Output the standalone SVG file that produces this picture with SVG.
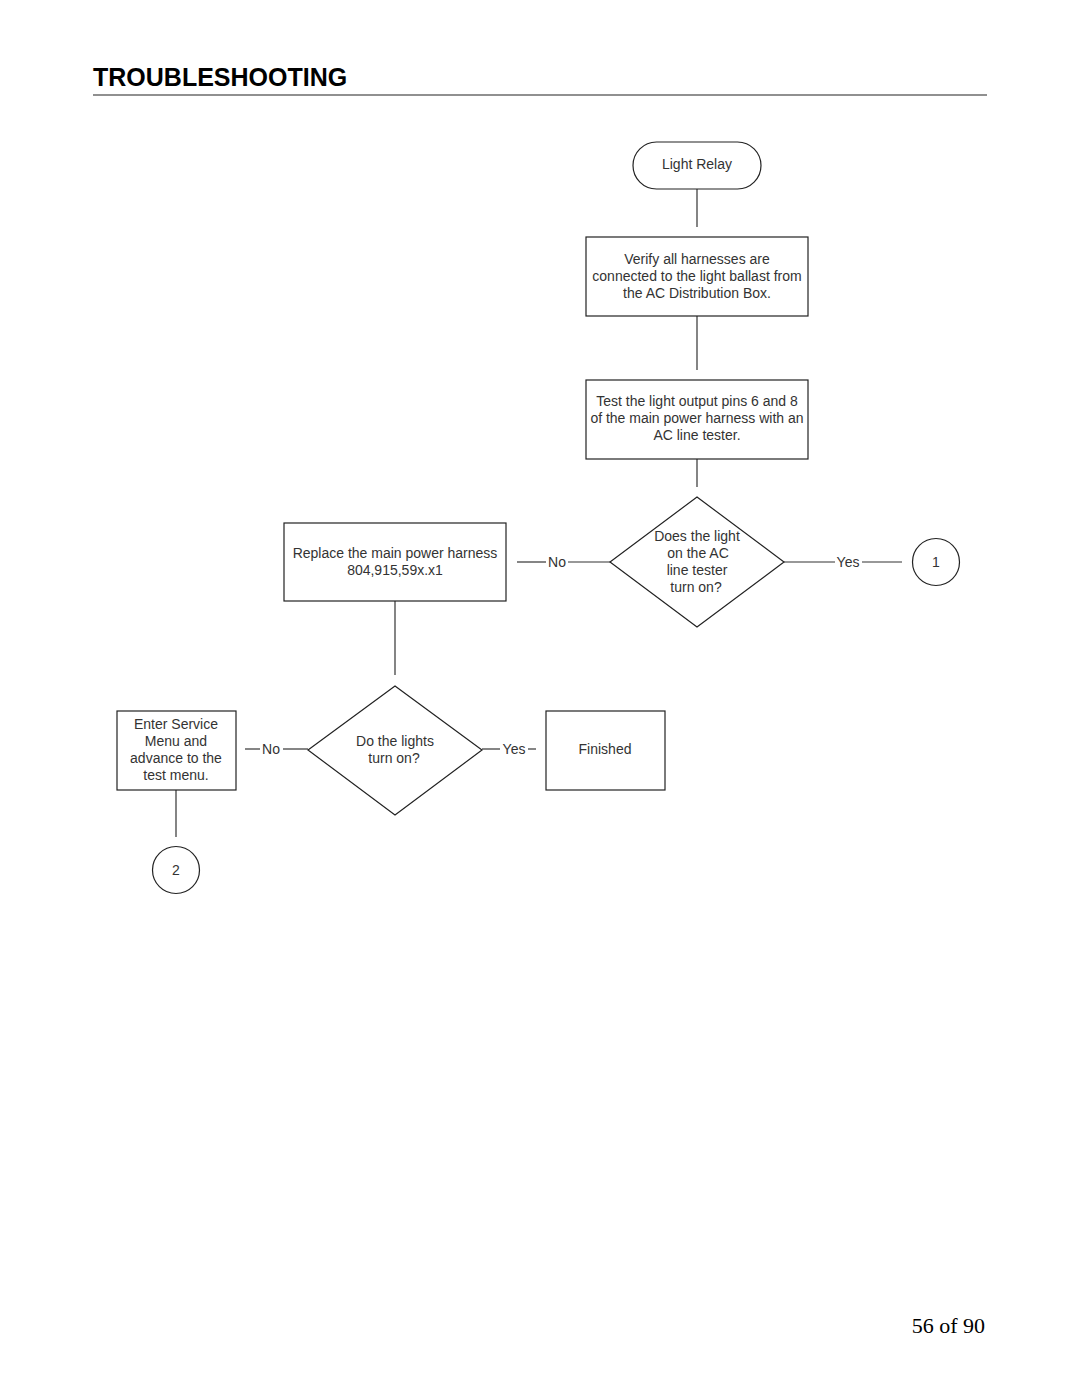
<svg xmlns="http://www.w3.org/2000/svg" width="1080" height="1397" viewBox="0 0 1080 1397">
<style>
.s{fill:#fff;stroke:#222;stroke-width:1.2}
.c{stroke:#333;stroke-width:1.2;fill:none}
.t{font-family:"Liberation Sans",Arial,sans-serif;font-size:14px;fill:#333;text-anchor:middle;dominant-baseline:central}
</style>
<rect width="1080" height="1397" fill="#fff"/>
<text x="93" y="86" font-family="Liberation Sans,Arial,sans-serif" font-weight="bold" font-size="25" fill="#000">TROUBLESHOOTING</text>
<line x1="93" y1="95" x2="987" y2="95" stroke="#222" stroke-width="1.2"/>
<g id="connectors">
<line class="c" x1="697" y1="189" x2="697" y2="227"/>
<line class="c" x1="697" y1="316" x2="697" y2="370"/>
<line class="c" x1="697" y1="459" x2="697" y2="487"/>
<line class="c" x1="517" y1="562" x2="546" y2="562"/>
<line class="c" x1="568" y1="562" x2="610" y2="562"/>
<text class="t" x="557" y="562">No</text>
<line class="c" x1="784" y1="562" x2="835" y2="562"/>
<line class="c" x1="862" y1="562" x2="902" y2="562"/>
<text class="t" x="848" y="562">Yes</text>
<line class="c" x1="395" y1="601" x2="395" y2="675"/>
<line class="c" x1="245" y1="749" x2="260" y2="749"/>
<line class="c" x1="283" y1="749" x2="308" y2="749"/>
<text class="t" x="271" y="749">No</text>
<line class="c" x1="482" y1="749" x2="500" y2="749"/>
<line class="c" x1="528" y1="749" x2="536" y2="749"/>
<text class="t" x="514" y="749">Yes</text>
<line class="c" x1="176" y1="790" x2="176" y2="837"/>
</g>
<g id="start">
<rect class="s" x="633" y="142" width="128" height="47" rx="23.5"/>
<text class="t" x="697" y="164">Light Relay</text>
</g>
<g id="verify">
<rect class="s" x="586" y="237" width="222" height="79"/>
<text class="t" x="697" y="259">Verify all harnesses are</text>
<text class="t" x="697" y="276">connected to the light ballast from</text>
<text class="t" x="697" y="293">the AC Distribution Box.</text>
</g>
<g id="test">
<rect class="s" x="586" y="380" width="222" height="79"/>
<text class="t" x="697" y="401">Test the light output pins 6 and 8</text>
<text class="t" x="697" y="418">of the main power harness with an</text>
<text class="t" x="697" y="435">AC line tester.</text>
</g>
<g id="decision1">
<polygon class="s" points="697,497 784,562 697,627 610,562"/>
<text class="t" x="697" y="536">Does the light</text>
<text class="t" x="698" y="553">on the AC</text>
<text class="t" x="697" y="570">line tester</text>
<text class="t" x="696" y="587">turn on?</text>
</g>
<g id="replace">
<rect class="s" x="284" y="523" width="222" height="78"/>
<text class="t" x="395" y="553">Replace the main power harness</text>
<text class="t" x="395" y="570">804,915,59x.x1</text>
</g>
<g id="conn1">
<circle class="s" cx="936" cy="562" r="23.5"/>
<text class="t" x="936" y="562">1</text>
</g>
<g id="decision2">
<polygon class="s" points="395,686 482,750 395,815 308,750"/>
<text class="t" x="395" y="741">Do the lights</text>
<text class="t" x="394" y="758">turn on?</text>
</g>
<g id="service">
<rect class="s" x="117" y="711" width="119" height="79"/>
<text class="t" x="176" y="724">Enter Service</text>
<text class="t" x="176" y="741">Menu and</text>
<text class="t" x="176" y="758">advance to the</text>
<text class="t" x="176" y="775">test menu.</text>
</g>
<g id="finished">
<rect class="s" x="546" y="711" width="119" height="79"/>
<text class="t" x="605" y="749">Finished</text>
</g>
<g id="conn2">
<circle class="s" cx="176" cy="870" r="23.5"/>
<text class="t" x="176" y="870">2</text>
</g>
<text x="985" y="1333" font-family="Liberation Serif,Times New Roman,serif" font-size="22" fill="#000" text-anchor="end">56 of 90</text>
</svg>
